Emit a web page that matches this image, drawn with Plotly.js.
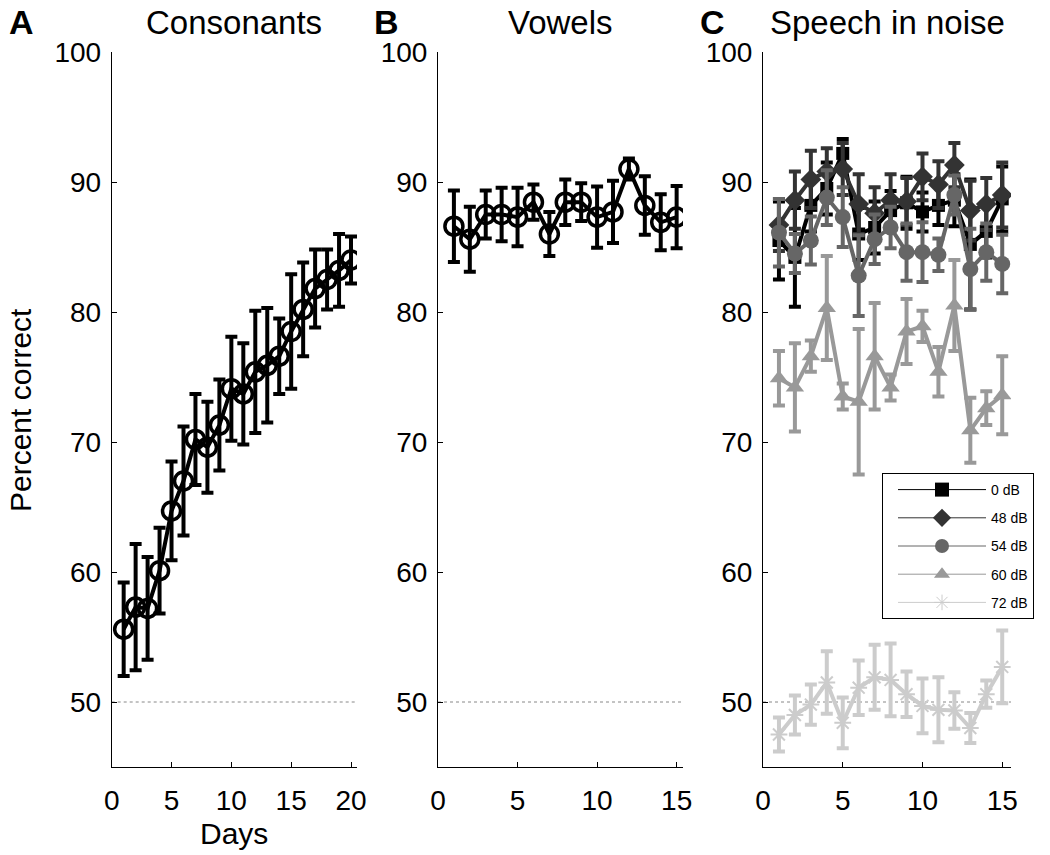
<!DOCTYPE html>
<html>
<head>
<meta charset="utf-8">
<script src="https://cdn.plot.ly/plotly-3.0.1.min.js"></script>
<style>html,body{margin:0;padding:0;background:#fff;}#chart{width:1050px;height:855px;}</style>
</head>
<body>
<div id="chart"></div>
<script>
// ---- Data ----
const daysA = [1,2,3,4,5,6,7,8,9,10,11,12,13,14,15,16,17,18,19,20];
const consonantsMean = [55.6,57.3,57.2,60.1,64.7,67.0,70.2,69.6,71.3,74.1,73.7,75.4,75.9,76.6,78.5,80.2,81.8,82.5,83.2,84.0];
const consonantsErr  = [3.6,4.85,3.95,3.3,3.8,4.2,3.5,3.5,3.5,4.0,3.9,4.7,4.4,2.9,4.4,3.6,3.0,2.3,2.8,1.8];

const daysBC = [1,2,3,4,5,6,7,8,9,10,11,12,13,14,15];
const vowelsMean = [86.6,85.6,87.5,87.5,87.3,88.45,86.0,88.45,88.45,87.3,87.7,91.0,88.2,86.9,87.3];
const vowelsErr  = [2.75,2.5,1.85,2.05,2.25,1.35,1.7,1.75,1.45,2.35,2.4,0.8,2.25,2.15,2.4];

const noiseLabels = ['0 dB','48 dB','54 dB','60 dB','72 dB'];
const noise0Mean  = [85.5,84.2,88.2,89.5,92.2,86.0,86.5,87.8,88.4,87.7,88.2,88.6,85.2,86.2,88.7];
const noise0Err   = [3.0,3.8,2.0,2.0,1.1,2.0,2.0,1.5,2.0,1.5,1.5,2.0,5.0,2.0,2.5];
const noise48Mean = [86.7,88.6,90.2,90.8,91.0,88.3,87.6,88.6,88.5,90.4,89.8,91.3,87.8,88.3,89.0];
const noise48Err  = [2.0,2.2,2.2,1.8,2.0,2.3,2.0,2.0,1.8,1.8,1.8,1.7,2.3,2.0,2.5];
const noise54Mean = [86.1,84.5,85.5,88.8,87.3,82.8,85.6,86.5,84.6,84.6,84.4,89.0,83.3,84.6,83.7];
const noise54Err  = [2.6,1.5,1.85,2.1,2.3,3.1,1.9,1.6,2.2,2.3,1.25,1.5,3.1,2.2,2.25];
const noise60Mean = [74.9,74.2,76.6,80.3,73.5,73.1,76.6,74.2,78.5,78.9,75.4,80.5,70.9,72.6,73.6];
const noise60Err  = [2.1,3.4,1.2,4.0,1.0,5.6,4.1,1.0,2.5,1.2,1.9,3.5,2.5,1.3,3.0];
const noise72Mean = [47.5,49.0,49.8,51.5,48.4,51.1,51.9,51.7,50.6,49.7,49.4,49.35,48.0,50.6,52.7];
const noise72Err  = [1.3,1.5,1.55,2.4,1.95,2.1,2.5,2.8,1.75,2.1,2.5,1.4,1.15,1.05,2.8];

const chanceLevel = 50;
const yTicks = [50,60,70,80,90,100];
const xTicksA = [0,5,10,15,20];
const xTicksBC = [0,5,10,15];

// ---- Styles ----
const FONT = 'Liberation Sans, Arial, Helvetica, sans-serif';
const noiseColors = ['#000000','#333333','#666666','#999999','#cccccc'];
const noiseSymbols = ['square','diamond','circle','triangle-up','asterisk-open'];
const noiseSizes = [13,16,16,16,14];
const noiseMeans = [noise0Mean,noise48Mean,noise54Mean,noise60Mean,noise72Mean];
const noiseErrs = [noise0Err,noise48Err,noise54Err,noise60Err,noise72Err];

function errTrace(x, y, e, color, symbol, size, xa, ya, open) {
  const isStar = symbol.indexOf('asterisk') >= 0;
  return {
    type: 'scatter', mode: 'lines+markers', x: x, y: y,
    xaxis: xa, yaxis: ya, showlegend: false,
    line: {color: color, width: 4},
    marker: open ? {symbol: symbol, size: size, color: color, line: {color: color, width: 3.5}}
                 : {symbol: symbol, size: size, color: color, line: {color: color, width: isStar ? 2 : 0}},
    error_y: {type: 'data', array: e, visible: true, color: color, thickness: 4, width: 6}
  };
}

const traces = [];
traces.push(errTrace(daysA, consonantsMean, consonantsErr, '#000', 'circle-open', 18, 'x', 'y', true));
traces.push(errTrace(daysBC, vowelsMean, vowelsErr, '#000', 'circle-open', 18, 'x2', 'y2', true));
for (let i = 0; i < 5; i++) {
  traces.push(errTrace(daysBC, noiseMeans[i], noiseErrs[i], noiseColors[i], noiseSymbols[i], noiseSizes[i], 'x3', 'y3', false));
}
// legend entries (thin lines like the original key)
for (let i = 0; i < 5; i++) {
  traces.push({
    type: 'scatter', mode: 'lines+markers', x: [null], y: [null], xaxis: 'x3', yaxis: 'y3',
    name: noiseLabels[i], showlegend: true, legendgroup: 'g' + i,
    line: {color: noiseColors[i], width: 1},
    marker: {symbol: noiseSymbols[i], size: i === 4 ? 13 : 14, color: noiseColors[i],
             line: {color: noiseColors[i], width: i === 4 ? 1 : 0}}
  });
}

const PW = 1050, PTOP = 52, PBOT = 767;
const PH = 855;
function xdom(a, b) { return [a / PW, b / PW]; }

function xaxisDef(dom, range, ticks, anchor) {
  return {
    domain: dom, range: range, anchor: anchor, tickvals: ticks, ticktext: ticks.map(String),
    showgrid: false, zeroline: false, showline: true, linecolor: '#000', linewidth: 1,
    ticks: 'inside', ticklen: 5, tickwidth: 1, tickcolor: '#000',
    tickfont: {family: FONT, size: 28, color: '#000'}, ticklabelstandoff: 8, fixedrange: true
  };
}
function yaxisDef(anchor) {
  return {
    domain: [0, 1], range: [45, 100], anchor: anchor, tickvals: yTicks, ticktext: yTicks.map(String),
    showgrid: false, zeroline: false, showline: true, linecolor: '#000', linewidth: 1,
    ticks: 'inside', ticklen: 5, tickwidth: 1, tickcolor: '#000',
    tickfont: {family: FONT, size: 28, color: '#000'}, ticklabelstandoff: 4, fixedrange: true
  };
}

function chanceShape(xr, yr) {
  return {type: 'line', xref: xr + ' domain', yref: yr, x0: 0, x1: 1, y0: chanceLevel, y1: chanceLevel,
          line: {color: '#888', width: 1, dash: 'dot'}, layer: 'below'};
}

function ann(text, xpx, ypx, size, bold, xanchor) {
  return {text: bold ? '<b>' + text + '</b>' : text, xref: 'paper', yref: 'paper',
          x: xpx / PW, y: (PBOT - ypx) / (PBOT - PTOP), xanchor: xanchor || 'center', yanchor: 'middle',
          showarrow: false, font: {family: FONT, size: size, color: '#000'}};
}

const layout = {
  width: PW, height: PH,
  margin: {l: 0, r: 0, t: PTOP, b: PH - PBOT, pad: 0},
  paper_bgcolor: '#fff', plot_bgcolor: '#fff',
  font: {family: FONT, color: '#000'},
  showlegend: true,
  legend: {
    x: 882 / PW, y: (PBOT - 473) / (PBOT - PTOP), xanchor: 'left', yanchor: 'top',
    bgcolor: '#fff', bordercolor: '#000', borderwidth: 1,
    font: {family: FONT, size: 14, color: '#000'},
    itemwidth: 88, indentation: 10, traceorder: 'grouped', tracegroupgap: 7,
    itemclick: false, itemdoubleclick: false
  },
  xaxis: xaxisDef(xdom(111.7, 357), [0, 20.5], xTicksA, 'y'),
  yaxis: yaxisDef('x'),
  xaxis2: xaxisDef(xdom(438, 683), [0, 15.4], xTicksBC, 'y2'),
  yaxis2: yaxisDef('x2'),
  xaxis3: xaxisDef(xdom(763, 1011), [0, 15.55], xTicksBC, 'y3'),
  yaxis3: yaxisDef('x3'),
  shapes: [chanceShape('x', 'y'), chanceShape('x2', 'y2'), chanceShape('x3', 'y3')],
  annotations: [
    ann('A', 7, 22, 34, true, 'left'),
    ann('Consonants', 234, 22, 33, false),
    ann('B', 372, 22, 34, true, 'left'),
    ann('Vowels', 560, 22, 33, false),
    ann('C', 698, 22, 34, true, 'left'),
    ann('Speech in noise', 887, 22, 33, false),
    Object.assign(ann('Percent correct', 20, 410, 30, false), {textangle: -90}),
    ann('Days', 234, 833, 30, false)
  ]
};

Plotly.newPlot('chart', traces, layout, {staticPlot: true, displayModeBar: false});
</script>
</body>
</html>
